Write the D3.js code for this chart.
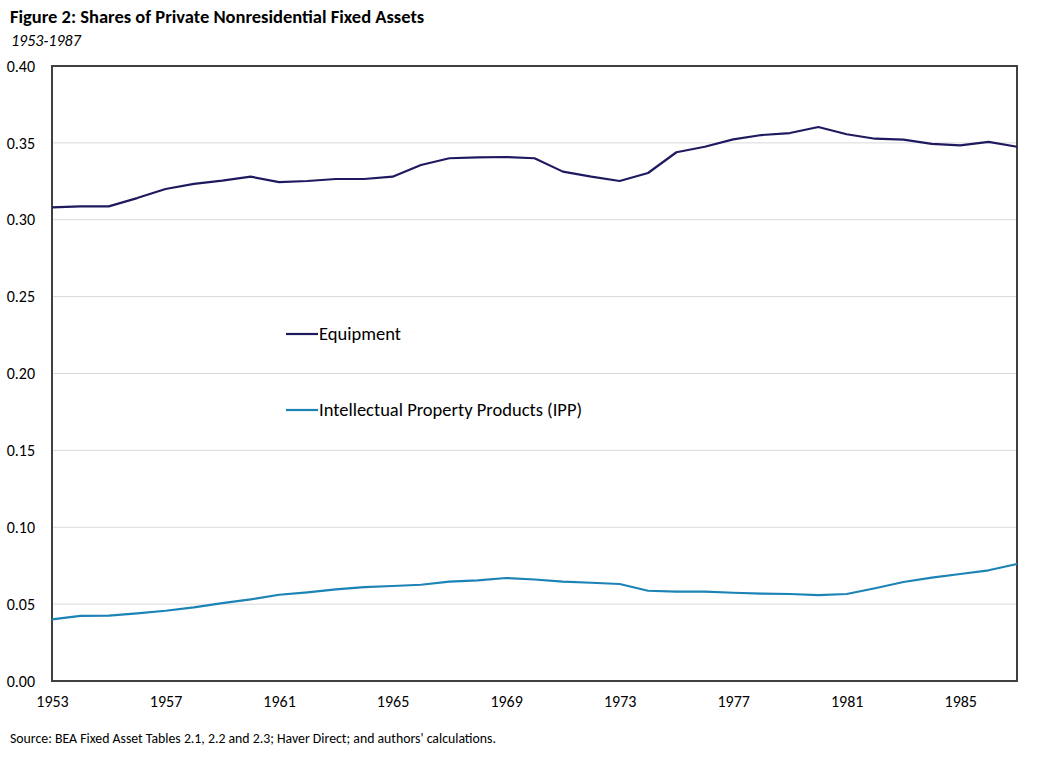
<!DOCTYPE html>
<html>
<head>
<meta charset="utf-8">
<script src="https://cdn.jsdelivr.net/npm/d3@7"></script>
<style>
  body { margin: 0; background: #fff; }
  svg { display: block; font-family: Carlito, Calibri, Lato, "Open Sans", sans-serif; }
  .tick text { fill: #000; }
</style>
</head>
<body>
<div id="chart"></div>
<script>
// Data
const years = d3.range(1953, 1988);
const equipment = [
  0.3081, 0.3087, 0.3087, 0.3141, 0.3200, 0.3233, 0.3254, 0.3280, 0.3245, 0.3252,
  0.3265, 0.3265, 0.3280, 0.3356, 0.3400, 0.3406, 0.3408, 0.3400, 0.3313, 0.3280,
  0.3252, 0.3304, 0.3439, 0.3475, 0.3523, 0.3551, 0.3564, 0.3603, 0.3556, 0.3527,
  0.3521, 0.3493, 0.3484, 0.3506, 0.3475
];
const ipp = [
  0.0401, 0.0423, 0.0425, 0.0440, 0.0457, 0.0479, 0.0507, 0.0531, 0.0561, 0.0577,
  0.0596, 0.0611, 0.0618, 0.0626, 0.0646, 0.0655, 0.0670, 0.0660, 0.0646, 0.0639,
  0.0631, 0.0587, 0.0581, 0.0581, 0.0574, 0.0568, 0.0566, 0.0559, 0.0566, 0.0603,
  0.0644, 0.0672, 0.0696, 0.0720, 0.0761
];
const yTicks = [0, 0.05, 0.10, 0.15, 0.20, 0.25, 0.30, 0.35, 0.40];
const xTicks = [1953, 1957, 1961, 1965, 1969, 1973, 1977, 1981, 1985];
const seriesNames = ["Equipment", "Intellectual Property Products (IPP)"];
const seriesColors = ["#1f1a5f", "#1b83b5"];

const width = 1044, height = 759;
const margin = { top: 66, right: 27, bottom: 78, left: 52 };
const fontStack = 'Carlito, Calibri, Lato, "Open Sans", sans-serif';

const svg = d3.select('#chart').append('svg')
  .attr('width', width)
  .attr('height', height);

const x = d3.scaleLinear()
  .domain([1953, 1987])
  .range([margin.left, width - margin.right]);

const y = d3.scaleLinear()
  .domain([0, 0.40])
  .range([height - margin.bottom, margin.top]);

// Title and subtitle
svg.append('text')
  .attr('x', 10).attr('y', 23)
  .style('font-weight', 'bold')
  .style('font-size', '18.5px')
  .text('Figure 2: Shares of Private Nonresidential Fixed Assets');

svg.append('text')
  .attr('x', 11).attr('y', 46)
  .style('font-style', 'italic')
  .style('font-size', '16px')
  .text('1953-1987');

// Gridlines
svg.append('g')
  .selectAll('line')
  .data(yTicks.slice(1, -1))
  .enter().append('line')
  .attr('x1', x(1953)).attr('x2', x(1987))
  .attr('y1', d => y(d)).attr('y2', d => y(d))
  .attr('stroke', '#d9d9d9')
  .attr('stroke-width', 1);

// Axes
const yAxis = svg.append('g')
  .attr('transform', `translate(${margin.left},0)`)
  .call(d3.axisLeft(y).tickValues(yTicks).tickFormat(d3.format('.2f')).tickSize(0).tickPadding(17))
  .attr('font-family', fontStack)
  .attr('font-size', 16);
yAxis.select('.domain').remove();

const xAxis = svg.append('g')
  .attr('transform', `translate(0,${height - margin.bottom})`)
  .call(d3.axisBottom(x).tickValues(xTicks).tickFormat(d3.format('d')).tickSize(0).tickPadding(15))
  .attr('font-family', fontStack)
  .attr('font-size', 16);
xAxis.select('.domain').remove();

// Plot frame
svg.append('rect')
  .attr('x', x(1953)).attr('y', y(0.40))
  .attr('width', x(1987) - x(1953))
  .attr('height', y(0) - y(0.40))
  .attr('fill', 'none')
  .attr('stroke', '#404040')
  .attr('stroke-width', 2);

// Lines
const line = d3.line()
  .x((d, i) => x(years[i]))
  .y(d => y(d));

[equipment, ipp].forEach((series, i) => {
  svg.append('path')
    .datum(series)
    .attr('fill', 'none')
    .attr('stroke', seriesColors[i])
    .attr('stroke-width', 2.2)
    .attr('stroke-linejoin', 'round')
    .attr('d', line);
});

// Legend
const legendY = [334, 410];
seriesNames.forEach((name, i) => {
  const g = svg.append('g').attr('transform', `translate(286,${legendY[i]})`);
  g.append('line')
    .attr('x1', 0).attr('x2', 32)
    .attr('stroke', seriesColors[i])
    .attr('stroke-width', 2.2);
  g.append('text')
    .attr('x', 33).attr('y', 0)
    .attr('dy', '0.35em')
    .style('font-size', '18.5px')
    .text(name);
});

// Source note
svg.append('text')
  .attr('x', 10).attr('y', 743)
  .style('font-size', '13.8px')
  .text("Source: BEA Fixed Asset Tables 2.1, 2.2 and 2.3; Haver Direct; and authors' calculations.");
</script>
</body>
</html>
